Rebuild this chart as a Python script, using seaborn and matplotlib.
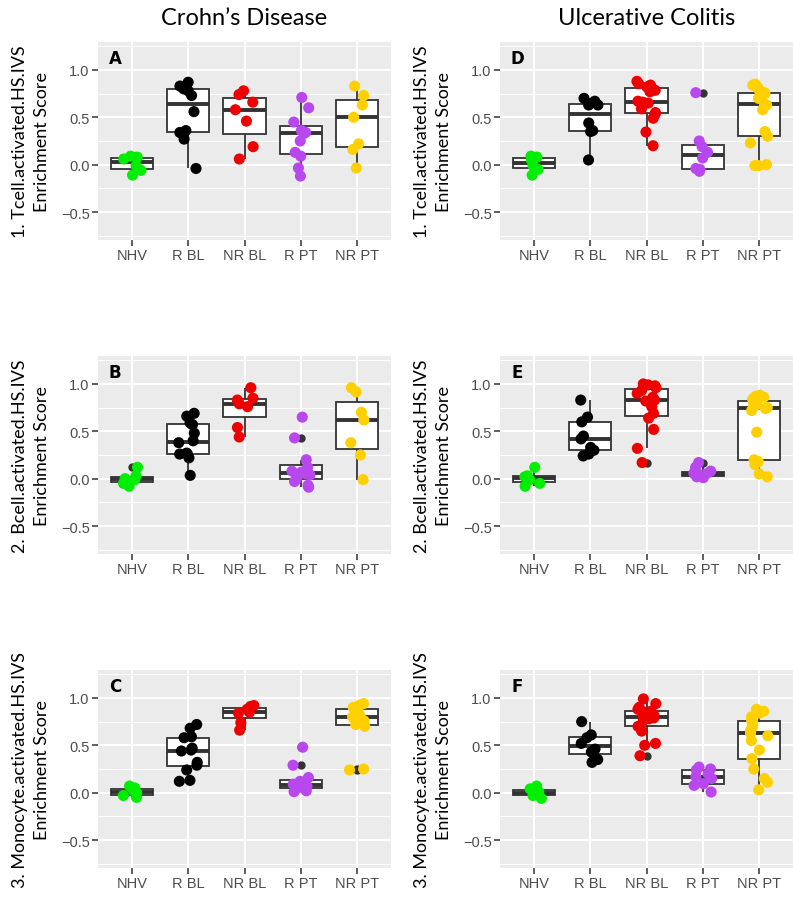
import numpy as np
import pandas as pd
import matplotlib
matplotlib.use("Agg")
import matplotlib.pyplot as plt
from matplotlib.ticker import MultipleLocator
import seaborn as sns

# ------------------------------------------------------------
# Data
# ------------------------------------------------------------
groups = ["NHV", "R BL", "NR BL", "R PT", "NR PT"]
group_colors = ["#00EE00", "#000000", "#EE0000", "#B847EE", "#FFD000"]

col_titles = ["Crohn\u2019s Disease", "Ulcerative Colitis"]
row_labels = ["1. Tcell.activated.HS.IVS",
              "2. Bcell.activated.HS.IVS",
              "3. Monocyte.activated.HS.IVS"]
panel_letters = [["A", "D"], ["B", "E"], ["C", "F"]]

y_ticks = [-0.5, 0.0, 0.5, 1.0]
y_tick_labels = ["\u22120.5", "0.0", "0.5", "1.0"]

# A: Crohn's, T cell
A_nhv = [0.06, 0.08, 0.09, -0.01, -0.06, -0.11]
A_rbl = [0.87, 0.83, 0.80, 0.78, 0.73, 0.56, 0.36, 0.34, 0.27, -0.04]
A_nrbl = [0.74, 0.78, 0.66, 0.58, 0.46, 0.19, 0.06]
A_rpt = [0.71, 0.60, 0.45, 0.36, 0.34, 0.33, 0.25, 0.13, 0.09, -0.035, -0.12]
A_nrpt = [0.83, 0.73, 0.63, 0.50, 0.22, 0.16, -0.035]

# D: UC, T cell
D_nhv = [0.09, 0.08, 0.05, -0.01, -0.05, -0.11]
D_rbl = [0.63, 0.70, 0.67, 0.63, 0.44, 0.36, 0.35, 0.05]
D_nrbl = [0.88, 0.855, 0.84, 0.82, 0.80, 0.785, 0.77, 0.67, 0.66, 0.65,
          0.59, 0.55, 0.53, 0.49, 0.345, 0.20]
D_rpt = [0.76, 0.25, 0.19, 0.13, 0.07, -0.04, -0.05, -0.07]
D_nrpt = [0.85, 0.84, 0.82, 0.80, 0.76, 0.75, 0.72, 0.70, 0.64, 0.63,
          0.58, 0.35, 0.30, 0.23, 0.0, -0.01, -0.01]

# B: Crohn's, B cell
B_nhv = [0.12, 0.03, 0.0, -0.01, -0.05, -0.08]
B_rbl = [0.69, 0.66, 0.59, 0.57, 0.48, 0.40, 0.38, 0.27, 0.26, 0.26, 0.22, 0.035]
B_nrbl = [0.96, 0.85, 0.83, 0.79, 0.76, 0.54, 0.44]
B_rpt = [0.65, 0.43, 0.20, 0.12, 0.08, 0.07, 0.05, 0.04, 0.0, -0.03, -0.07, -0.09]
B_nrpt = [0.96, 0.915, 0.70, 0.62, 0.38, 0.25, -0.01]

# E: UC, B cell
E_nhv = [0.12, 0.03, 0.02, -0.01, -0.05, -0.08]
E_rbl = [0.83, 0.65, 0.60, 0.45, 0.42, 0.33, 0.30, 0.26, 0.24]
E_nrbl = [1.0, 0.99, 0.98, 0.96, 0.93, 0.90, 0.86, 0.83, 0.82, 0.76,
          0.69, 0.64, 0.52, 0.32, 0.17]
E_rpt = [0.17, 0.12, 0.08, 0.06, 0.05, 0.05, 0.04, 0.03, 0.02, 0.01]
E_nrpt = [0.88, 0.87, 0.86, 0.84, 0.82, 0.80, 0.78, 0.76, 0.75, 0.74,
          0.72, 0.49, 0.20, 0.18, 0.15, 0.05, 0.02]

# C: Crohn's, monocyte
C_nhv = [0.07, 0.05, 0.02, 0.0, -0.03, -0.05]
C_rbl = [0.72, 0.68, 0.58, 0.59, 0.47, 0.45, 0.44, 0.32, 0.29, 0.24, 0.13, 0.12]
C_nrbl = [0.92, 0.91, 0.88, 0.85, 0.84, 0.74, 0.66]
C_rpt = [0.48, 0.29, 0.16, 0.12, 0.11, 0.09, 0.08, 0.07, 0.05, 0.04, 0.02, 0.01]
C_nrpt = [0.94, 0.92, 0.90, 0.86, 0.82, 0.80, 0.76, 0.72, 0.70, 0.25, 0.24]

# F: UC, monocyte
F_nhv = [0.07, 0.04, 0.01, -0.01, -0.03, -0.06]
F_rbl = [0.75, 0.61, 0.58, 0.52, 0.46, 0.43, 0.35, 0.32]
F_nrbl = [0.99, 0.94, 0.90, 0.88, 0.86, 0.85, 0.83, 0.82, 0.80, 0.79,
          0.78, 0.76, 0.70, 0.65, 0.52, 0.50, 0.39]
F_rpt = [0.27, 0.25, 0.24, 0.20, 0.17, 0.15, 0.095, 0.077, 0.007]
F_nrpt = [0.88, 0.86, 0.84, 0.80, 0.76, 0.75, 0.70, 0.66, 0.63, 0.60,
          0.55, 0.45, 0.36, 0.25, 0.15, 0.11, 0.03]

panel_data = [
    [[A_nhv, A_rbl, A_nrbl, A_rpt, A_nrpt], [D_nhv, D_rbl, D_nrbl, D_rpt, D_nrpt]],
    [[B_nhv, B_rbl, B_nrbl, B_rpt, B_nrpt], [E_nhv, E_rbl, E_nrbl, E_rpt, E_nrpt]],
    [[C_nhv, C_rbl, C_nrbl, C_rpt, C_nrpt], [F_nhv, F_rbl, F_nrbl, F_rpt, F_nrpt]],
]

# ------------------------------------------------------------
# Figure layout (ggplot-like grey panels)
# ------------------------------------------------------------
W, H = 793, 903
fig = plt.figure(figsize=(W / 100, H / 100), dpi=100)

col_left = [98 / W, 500 / W]
col_width = 293 / W
row_top = [43, 357, 671]
row_height = 198

palette = dict(zip(groups, group_colors))
np.random.seed(7)

for r in range(3):
    for c in range(2):
        bottom = 1 - (row_top[r] + row_height) / H
        ax = fig.add_axes([col_left[c], bottom, col_width, row_height / H])

        values = panel_data[r][c]
        df = pd.DataFrame({
            "group": np.repeat(groups, [len(v) for v in values]),
            "score": np.concatenate(values),
        })

        sns.boxplot(data=df, x="group", y="score", order=groups,
                    color="white", linecolor="#333333", linewidth=1.3,
                    width=0.75, saturation=1, showcaps=False,
                    medianprops=dict(linewidth=2.8, color="#333333"),
                    flierprops=dict(marker="o", markersize=5,
                                    markerfacecolor="#333333",
                                    markeredgecolor="#333333"),
                    ax=ax)
        sns.stripplot(data=df, x="group", y="score", order=groups,
                      hue="group", palette=palette, jitter=0.17, size=8,
                      linewidth=0, legend=False, zorder=3, ax=ax)

        # panel styling
        ax.set_facecolor("#EBEBEB")
        for s in ax.spines.values():
            s.set_visible(False)
        ax.set_axisbelow(True)
        ax.set_xlim(-0.6, 4.6)
        ax.set_ylim(-0.795, 1.295)
        ax.set_yticks(y_ticks)
        ax.set_yticklabels(y_tick_labels)
        ax.yaxis.set_minor_locator(MultipleLocator(0.25))
        ax.grid(which="major", color="white", linewidth=1.4)
        ax.grid(which="minor", axis="y", color="white", linewidth=0.7)
        ax.tick_params(which="minor", length=0)
        ax.tick_params(which="major", length=4, width=1.1, color="#333333",
                       labelcolor="#4D4D4D", labelsize=10.5, pad=2)
        for lab in ax.get_xticklabels() + ax.get_yticklabels():
            lab.set_fontfamily("Liberation Sans")

        ax.set_xlabel("")
        ax.set_ylabel(row_labels[r] + "\nEnrichment Score",
                      fontsize=13, fontfamily="Lato", linespacing=1.4)
        ax.yaxis.set_label_coords(-0.165, 0.5)

        ax.text(-0.3, 1.13, panel_letters[r][c], fontsize=12,
                fontweight="bold", ha="center", va="center")

        if r == 0:
            ax.set_title(col_titles[c], fontsize=17, fontfamily="Lato", pad=13)

fig.savefig("out.png", dpi=100)
